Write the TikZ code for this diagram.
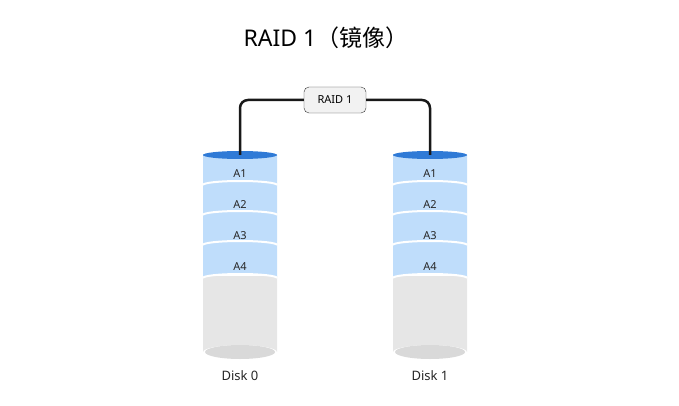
\documentclass[tikz,border=0pt]{standalone}
\usepackage{fontspec}
\setmainfont{Noto Sans}
\newfontfamily\cjk{Noto Sans CJK SC}
\usetikzlibrary{positioning}

\definecolor{bandblue}{HTML}{BFDDFB}
\definecolor{topblue}{HTML}{2F7AD6}
\definecolor{diskgray}{HTML}{E6E6E6}
\definecolor{basegray}{HTML}{D9D9D9}

\tikzset{
  band/.style={fill=bandblue},
  sep/.style={draw=white,line width=2pt},
  lbl/.style={font=\fontsize{11}{13}\selectfont,text=black!85},
  wire/.style={line width=2.5pt,black!90,rounded corners=8pt},
  raidbox/.style={draw=black!80,fill=black!5,rounded corners=5pt,minimum width=62pt,minimum height=26pt,font=\fontsize{11}{13}\selectfont}
}

% one disk: #1 centre x, #2 name
\newcommand{\diskat}[2]{
  \fill[diskgray] (#1-37,276) -- (#1-37,352) arc[start angle=180,end angle=360,x radius=37,y radius=7] -- (#1+37,276) -- cycle;
  \fill[basegray] (#1,352) ellipse[x radius=35,y radius=7];
  \fill[band] (#1-37,155) -- (#1-37,278) arc[start angle=180,end angle=360,x radius=37,y radius=4] -- (#1+37,155) -- cycle;
  \foreach \y in {185,215,245,278}
    \draw[sep] (#1-37,\y) arc[start angle=180,end angle=360,x radius=37,y radius=4];
  \fill[topblue] (#1,155) ellipse[x radius=37,y radius=4];
  \foreach \i/\y in {1/174,2/205,3/236,4/267}
    \node[lbl] (#2a\i) at (#1,\y) {A\i};
  \coordinate (#2top) at (#1,155);
}

\begin{document}
\begin{tikzpicture}[x=1pt,y=-1pt]
\useasboundingbox (0,0) rectangle (679,406);

\node[font=\fontsize{23}{26}\selectfont] (title) at (326,38) {RAID 1\cjk（镜像）};

\diskat{240}{d0}
\diskat{430}{d1}
\node[lbl,font=\fontsize{13}{15}\selectfont] (d0lbl) at (240,376) {Disk 0};
\node[lbl,font=\fontsize{13}{15}\selectfont] (d1lbl) at (430,376) {Disk 1};

\node[raidbox] (raid) at (335,100) {RAID 1};
\draw[wire] (d0top) |- (raid.west);
\draw[wire] (d1top) |- (raid.east);
\end{tikzpicture}
\end{document}
